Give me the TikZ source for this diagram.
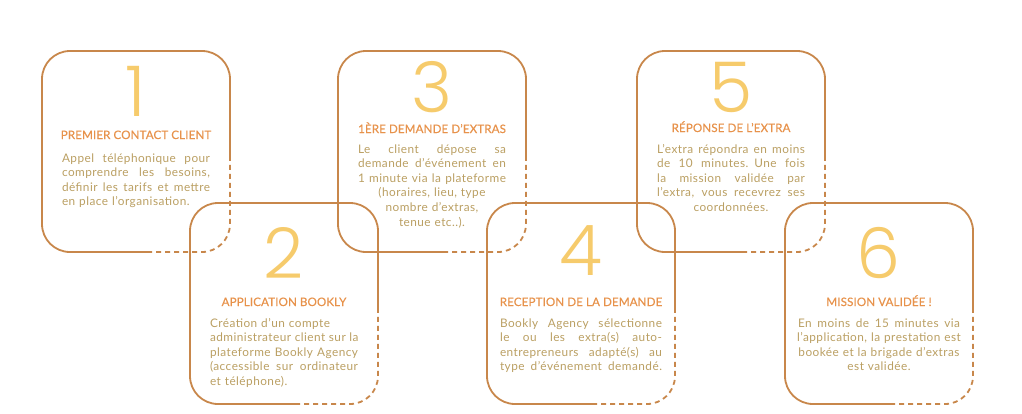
\documentclass[tikz,border=0pt]{standalone}
\usepackage{fontspec}
\setmainfont{Lato}
\newfontfamily\bodyfont{Lato}[LetterSpace=4]
\newfontfamily\headfont{Lato}[FakeBold=0.4,LetterSpace=1]
\newfontfamily\numfont{Poppins Light}
\usepackage{tikz}

\definecolor{cardline}{HTML}{C8874B}
\definecolor{cardnum}{HTML}{F6CB6C}
\definecolor{cardtitle}{HTML}{E7924B}
\definecolor{cardtext}{HTML}{BA9F62}

% one justified line of a card text
\newcommand{\jline}[2][148pt]{\leavevmode\hbox to #1{\spaceskip=0.3em plus 3em\relax #2}}

\begin{document}
\begin{tikzpicture}[x=1pt,y=-1pt]
		\tikzstyle{card edge}=[draw=cardline, line width=1.8pt, rounded corners=28pt]
		\tikzstyle{card tail}=[card edge, dash pattern=on 5pt off 4pt]
		\tikzstyle{number}=[anchor=base, text=cardnum, inner sep=0pt, font=\numfont\fontsize{70}{70}\selectfont]
		\tikzstyle{title}=[anchor=base, text=cardtitle, inner sep=0pt, font=\headfont\fontsize{11.6}{14}\selectfont]
		\tikzstyle{body}=[anchor=base, text=cardtext, inner sep=0pt, text width=148pt, font=\bodyfont\fontsize{11.8}{14.6}\selectfont]

		\useasboundingbox (0,0) rectangle (1022,413);

		% outlines, open at the lower right corner
		\foreach \bx/\by in {42/51,190/203,338/51,487/203,637/51,785/203} {
			\draw[card edge] (\bx+188,\by+107) -- (\bx+188,\by) -- (\bx,\by) -- (\bx,\by+201) -- (\bx+105,\by+201);
			\draw[card tail] (\bx+105,\by+201) -- (\bx+188,\by+201) -- (\bx+188,\by+107);
		}

		\node [number] (num1) at (136,116) {1};
		\node [title] (title1) at (136,139) {PREMIER CONTACT CLIENT};
		\node [body,align=left] (body1) at (136,162) {\jline{Appel téléphonique pour}\\\jline{comprendre les besoins,}\\\jline{définir les tarifs et mettre}\\en place l’organisation.};

		\node [number] (num2) at (284,278) {2};
		\node [title] (title2) at (284,306) {APPLICATION BOOKLY};
		\node [body,align=left] (body2) at (284,327) {Création d’un compte\\\jline{administrateur client sur la}\\\jline{plateforme Bookly Agency}\\\jline{(accessible sur ordinateur}\\et téléphone).};

		\node [number] (num3) at (432,112) {3};
		\node [title] (title3) at (432,133) {1ÈRE DEMANDE D’EXTRAS};
		\node [body,align=center] (body3) at (432,153) {\jline{Le client dépose sa}\\\jline{demande d’événement en}\\\jline{1 minute via la plateforme}\\(horaires, lieu, type\\nombre d’extras,\\tenue etc..).};

		\node [number] (num4) at (581,275) {4};
		\node [title] (title4) at (581,306) {RECEPTION DE LA DEMANDE};
		\node [body,align=left,text width=162pt] (body4) at (581,327) {\jline[162pt]{Bookly Agency sélectionne}\\\jline[162pt]{le ou les extra(s) auto-}\\\jline[162pt]{entrepreneurs adapté(s) au}\\\jline[162pt]{type d’événement demandé.}};

		\node [number] (num5) at (731,112) {5};
		\node [title] (title5) at (731,132) {RÉPONSE DE L’EXTRA};
		\node [body,align=center] (body5) at (731,153) {\jline{L’extra répondra en moins}\\\jline{de 10 minutes. Une fois}\\\jline{la mission validée par}\\\jline{l’extra, vous recevrez ses}\\coordonnées.};

		\node [number] (num6) at (879,278) {6};
		\node [title] (title6) at (879,306) {MISSION VALIDÉE !};
		\node [body,align=center,text width=166pt] (body6) at (879,327) {\jline[162pt]{En moins de 15 minutes via}\\l’application, la prestation est\\bookée et la brigade d’extras\\est validée.};
	\end{tikzpicture}
\end{document}
